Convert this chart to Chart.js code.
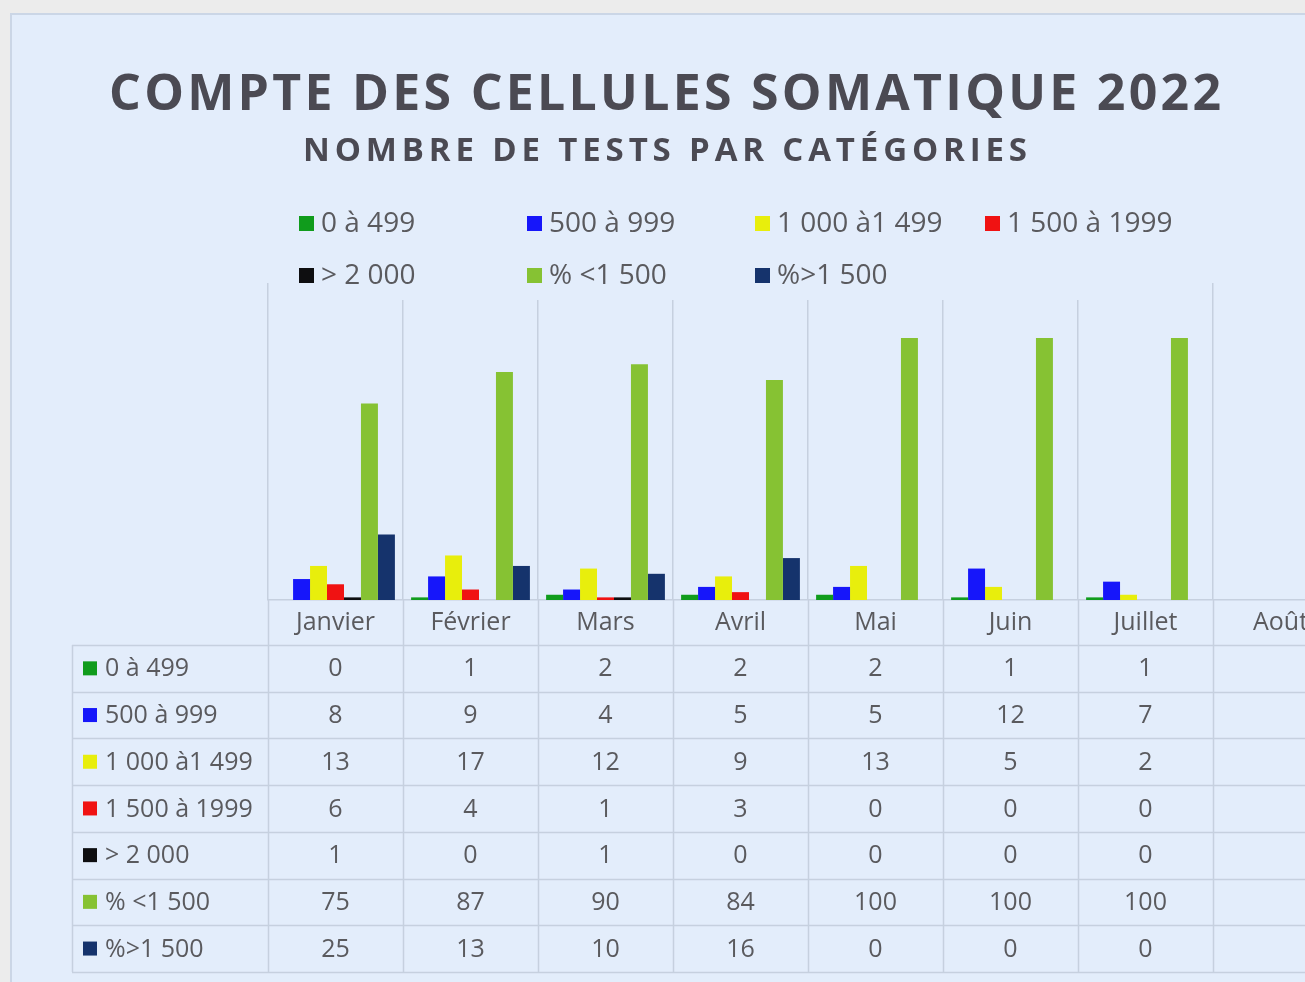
<!DOCTYPE html>
<html lang="fr">
<head>
<meta charset="utf-8">
<title>Compte des cellules somatique 2022</title>
<script src="https://cdn.jsdelivr.net/npm/chart.js@4.4.1/dist/chart.umd.min.js"></script>
<style>
  html, body { margin:0; padding:0; background:#ececec; overflow:hidden; }
  body { width:1305px; height:982px; position:relative; }
  #card { position:absolute; left:10px; top:13px; width:1400px; height:1000px;
          background:#e3edfb; border:2px solid #cbd6e6; box-sizing:border-box; }
  #wrap { position:absolute; left:0; top:0; width:1380px; height:990px; }
</style>
</head>
<body>
<div id="card"><div id="wrap"><canvas id="chart"></canvas></div></div>
<script>
// données
const CATEGORIES = ['Janvier', 'Février', 'Mars', 'Avril', 'Mai', 'Juin', 'Juillet', 'Août'];
const SERIES_LABELS = ['0 à 499', '500 à 999', '1 000 à1 499', '1 500 à 1999', '> 2 000', '% <1 500', '%>1 500'];
const S_0_499     = [0, 1, 2, 2, 2, 1, 1, null];
const S_500_999   = [8, 9, 4, 5, 5, 12, 7, null];
const S_1000_1499 = [13, 17, 12, 9, 13, 5, 2, null];
const S_1500_1999 = [6, 4, 1, 3, 0, 0, 0, null];
const S_2000_PLUS = [1, 0, 1, 0, 0, 0, 0, null];
const PCT_BELOW   = [75, 87, 90, 84, 100, 100, 100, null];
const PCT_ABOVE   = [25, 13, 10, 16, 0, 0, 0, null];
const COLORS = ['#109c1c', '#1616fa', '#e8ee0c', '#f01212', '#0e0e10', '#86c233', '#15336c'];

const TITLE = 'COMPTE DES CELLULES SOMATIQUE 2022';
const SUBTITLE = 'NOMBRE DE TESTS PAR CATÉGORIES';

const TEXT = '#5a5a5e';
const LINE = '#c6d0df';
const BG = '#e3edfb';
const FONT = '"Open Sans", "Liberation Sans", sans-serif';

// texte espacé pour tenir une largeur donnée
const spacedText = (ctx, txt, cx, y, width) => {
  ctx.letterSpacing = '0px';
  const w = ctx.measureText(txt).width;
  const sp = (width - w) / (txt.length - 1);
  ctx.letterSpacing = sp + 'px';
  ctx.textAlign = 'left';
  ctx.fillText(txt, cx - width / 2, y);
  ctx.letterSpacing = '0px';
};

const decor = {
  id: 'excelDecor',
  afterDraw(chart) {
    const ctx = chart.ctx;
    const area = chart.chartArea;
    const xs = chart.scales.x;
    const ds = chart.data.datasets;
    ctx.save();

    // titres
    ctx.fillStyle = '#4b4a53';
    ctx.textBaseline = 'alphabetic';
    ctx.font = `bold 50px ${FONT}`;
    spacedText(ctx, TITLE, 653, 95, 1112);
    ctx.font = `bold 33px ${FONT}`;
    spacedText(ctx, SUBTITLE, 653, 146, 724);

    // légende (grille 4 colonnes, fond qui masque le haut du quadrillage)
    ctx.fillStyle = BG;
    ctx.fillRect(264, 186, 930, 99);
    const colX = [287, 515, 743, 973];
    const rowY = [208, 260];
    ctx.font = `28px ${FONT}`;
    ctx.textBaseline = 'middle';
    ctx.textAlign = 'left';
    ds.forEach((d, i) => {
      const x = colX[i % 4], y = rowY[Math.floor(i / 4)];
      ctx.fillStyle = d.backgroundColor;
      ctx.fillRect(x, y - 7, 15, 15);
      ctx.fillStyle = TEXT;
      ctx.fillText(d.label, x + 22, y + 1);
    });

    // table de données
    const centers = CATEGORIES.map((_, i) => xs.getPixelForValue(i));
    const half = (centers[1] - centers[0]) / 2;
    const edges = [centers[0] - half, ...centers.map(c => c + half)];
    const headTop = area.bottom;
    const headH = 45;
    const rowH = 46.7;
    const tblLeft = 60;
    const tblTop = headTop + headH;
    const tblBottom = tblTop + rowH * ds.length;
    const right = chart.width;

    ctx.strokeStyle = LINE;
    ctx.lineWidth = 1.5;
    ctx.beginPath();
    for (let r = 0; r <= ds.length; r++) {
      const y = Math.round(tblTop + r * rowH) + 0.5;
      ctx.moveTo(tblLeft, y); ctx.lineTo(right, y);
    }
    ctx.moveTo(tblLeft + 0.5, tblTop); ctx.lineTo(tblLeft + 0.5, tblBottom);
    edges.forEach(e => {
      const x = Math.round(e) + 0.5;
      ctx.moveTo(x, headTop); ctx.lineTo(x, tblBottom);
    });
    ctx.stroke();

    ctx.font = `25px ${FONT}`;
    ctx.fillStyle = TEXT;
    ctx.textAlign = 'center';
    ctx.textBaseline = 'middle';
    centers.forEach((c, i) => ctx.fillText(CATEGORIES[i], c, headTop + headH / 2));

    ds.forEach((d, r) => {
      const y = tblTop + r * rowH + rowH / 2;
      ctx.fillStyle = d.backgroundColor;
      ctx.fillRect(tblLeft + 11, y - 7, 14, 14);
      ctx.fillStyle = TEXT;
      ctx.textAlign = 'left';
      ctx.fillText(d.label, tblLeft + 33, y + 1);
      ctx.textAlign = 'center';
      d.data.forEach((v, i) => {
        if (v === null || v === undefined) return;
        ctx.fillText(String(v), centers[i], y + 1);
      });
    });
    ctx.restore();
  }
};

const seriesData = [S_0_499, S_500_999, S_1000_1499, S_1500_1999, S_2000_PLUS, PCT_BELOW, PCT_ABOVE];

new Chart(document.getElementById('chart'), {
  type: 'bar',
  data: {
    labels: CATEGORIES,
    datasets: seriesData.map((arr, i) => ({
      label: SERIES_LABELS[i],
      data: arr,
      backgroundColor: COLORS[i],
      borderWidth: 0,
      categoryPercentage: 0.88,
      barPercentage: 1.0
    }))
  },
  options: {
    responsive: true,
    maintainAspectRatio: false,
    animation: false,
    layout: { padding: { left: 256, top: 268, right: 44, bottom: 405 } },
    plugins: {
      legend: { display: false },
      title: { display: false },
      tooltip: { enabled: false }
    },
    scales: {
      x: {
        offset: true,
        ticks: { display: false },
        grid: { display: true, offset: true, drawTicks: false, color: LINE, lineWidth: 1.5 },
        border: { display: true, color: LINE, width: 1.5 }
      },
      y: { display: false, min: 0, max: 121 }
    }
  },
  plugins: [decor]
});
</script>
</body>
</html>
